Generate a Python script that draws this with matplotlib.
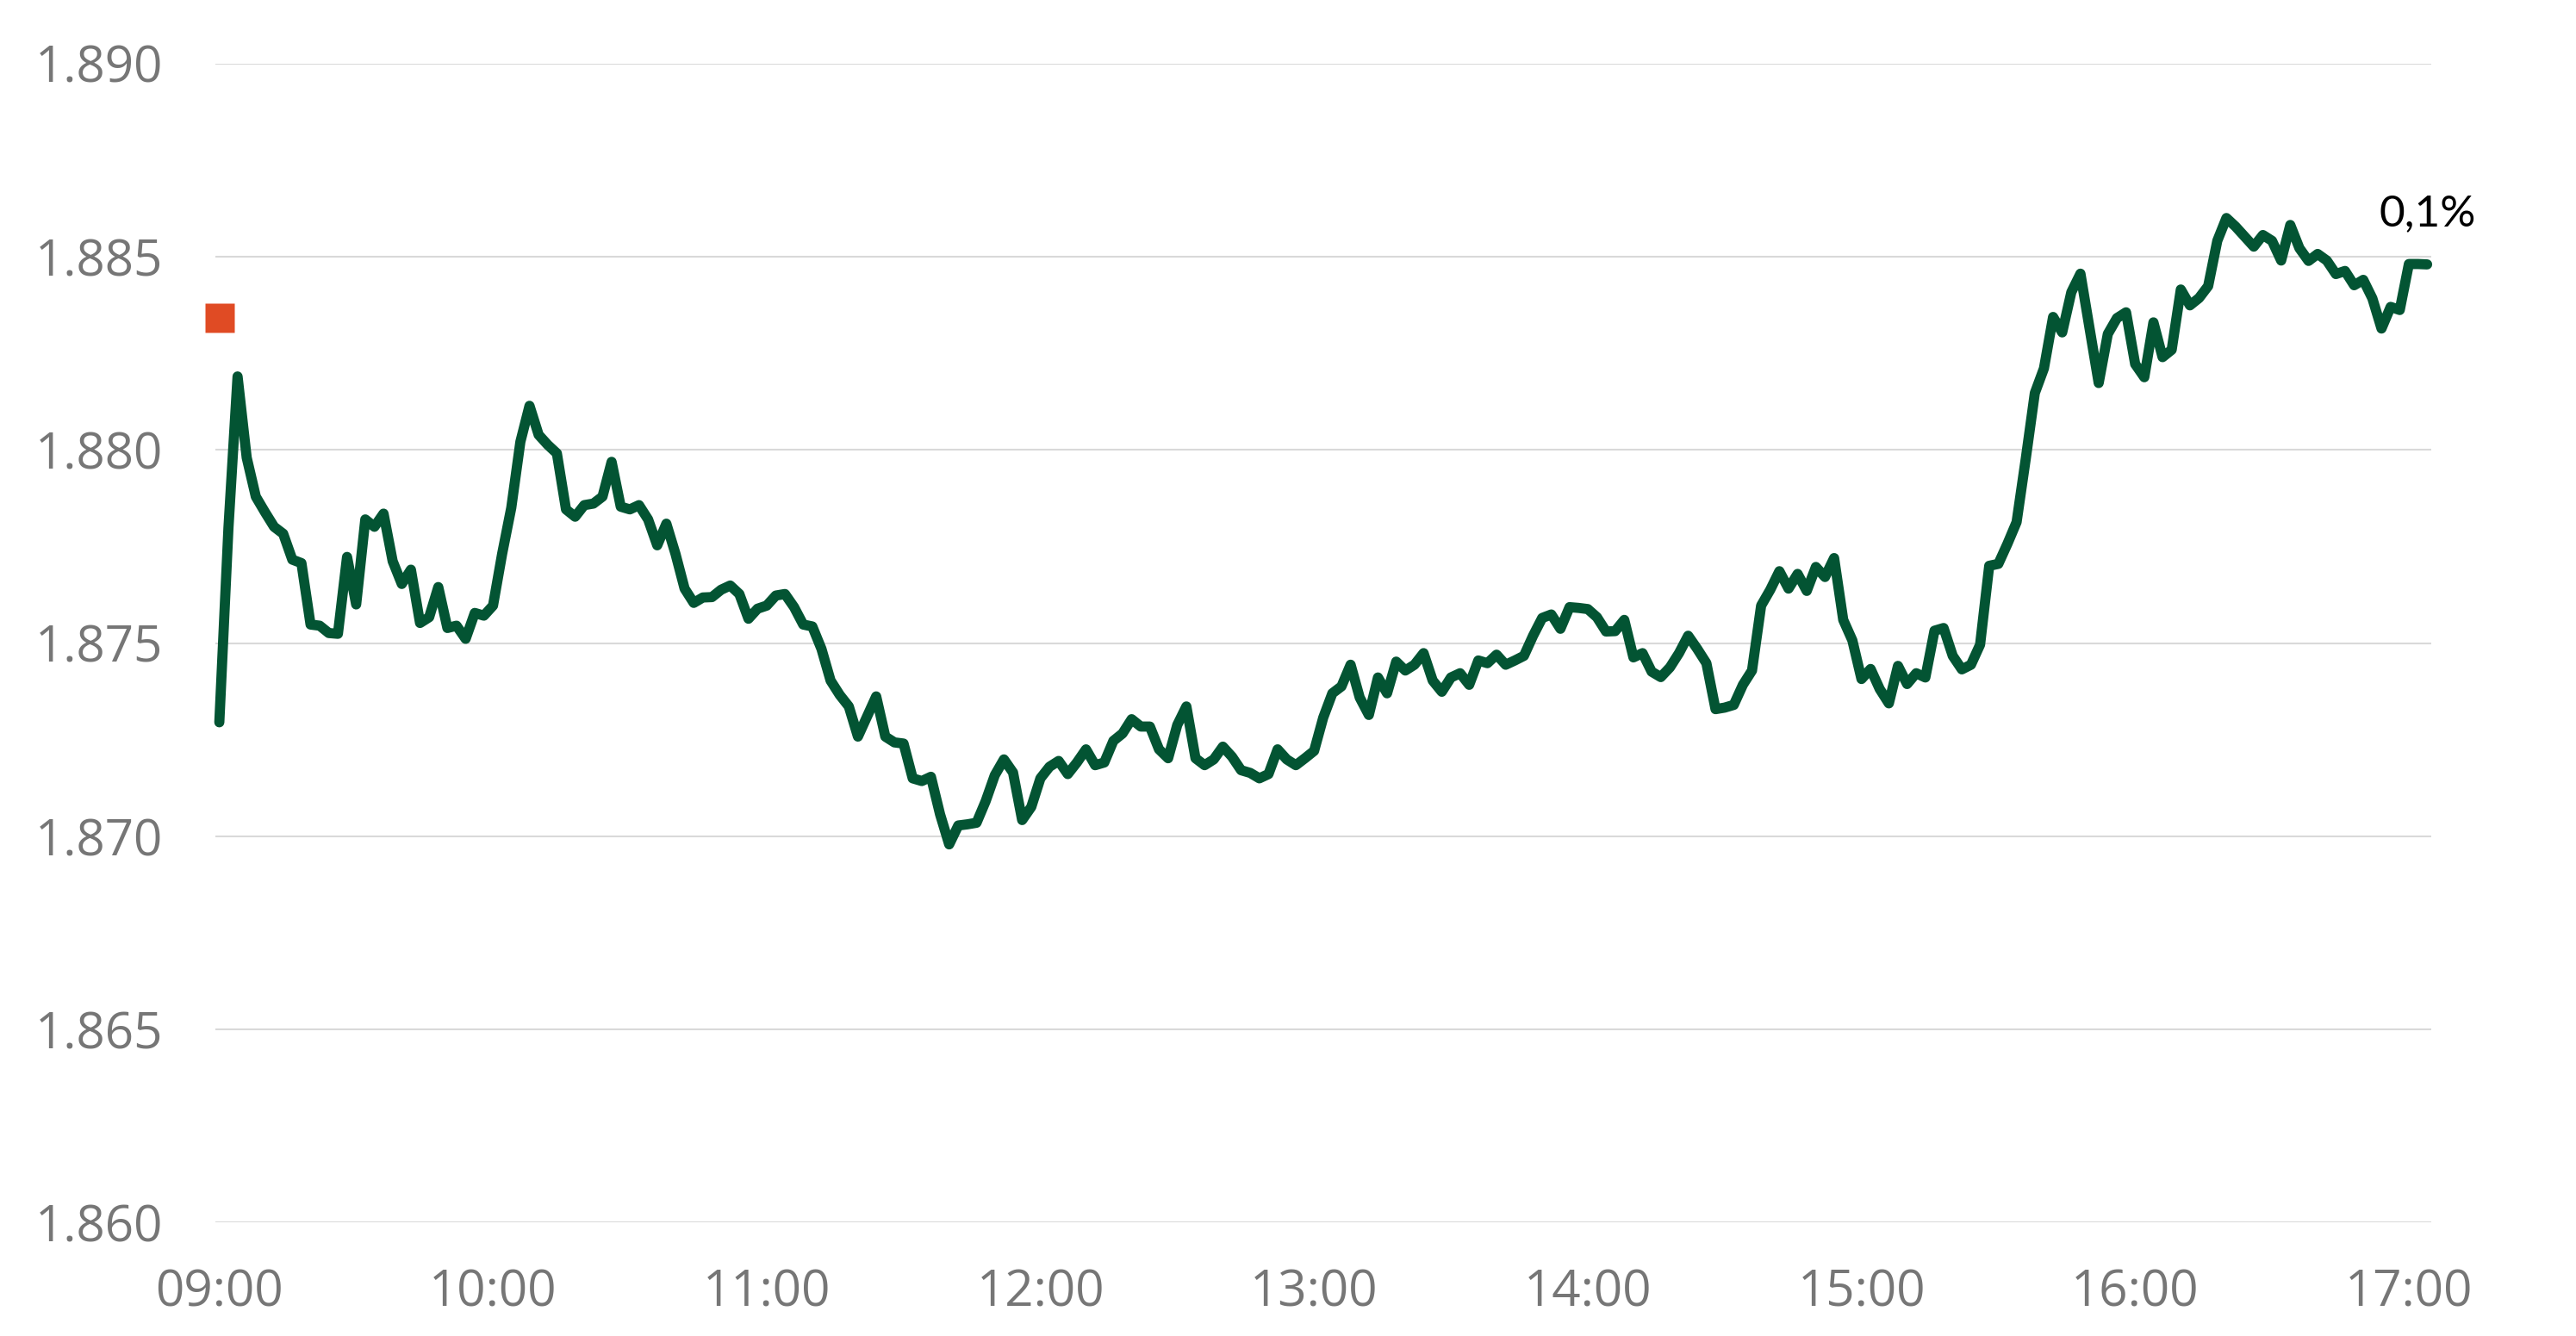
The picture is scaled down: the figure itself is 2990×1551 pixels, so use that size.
import numpy as np
import matplotlib
matplotlib.use("Agg")
import matplotlib.pyplot as plt

# minutes after 09:00, one point every 2 minutes
minutes = np.arange(0, 486, 2)
price = [
    1.87295, 1.87798, 1.88190, 1.87980, 1.87879, 1.87839, 1.87801, 1.87783, 1.87716, 1.87707,
    1.87548, 1.87545, 1.87526, 1.87524, 1.87723, 1.87600, 1.87820, 1.87801, 1.87835, 1.87712,
    1.87653, 1.87690, 1.87552, 1.87567, 1.87645, 1.87539, 1.87545, 1.87511, 1.87578, 1.87571,
    1.87597, 1.87731, 1.87850, 1.88021, 1.88114, 1.88039, 1.88013, 1.87991, 1.87846, 1.87827,
    1.87857, 1.87861, 1.87879, 1.87969, 1.87853, 1.87846, 1.87857, 1.87820, 1.87753, 1.87809,
    1.87731, 1.87641, 1.87604, 1.87618, 1.87619, 1.87638, 1.87649, 1.87627, 1.87563, 1.87589,
    1.87597, 1.87623, 1.87627, 1.87593, 1.87548, 1.87543, 1.87485, 1.87403, 1.87366, 1.87336,
    1.87258, 1.87310, 1.87362, 1.87258, 1.87243, 1.87240, 1.87150, 1.87143, 1.87154, 1.87057,
    1.86979, 1.87028, 1.87031, 1.87035, 1.87091, 1.87158, 1.87199, 1.87165, 1.87042, 1.87076,
    1.87150, 1.87180, 1.87195, 1.87161, 1.87191, 1.87225, 1.87184, 1.87191, 1.87247, 1.87266,
    1.87303, 1.87284, 1.87284, 1.87225, 1.87202, 1.87288, 1.87336, 1.87202, 1.87184, 1.87199,
    1.87232, 1.87206, 1.87171, 1.87164, 1.87150, 1.87161, 1.87225, 1.87199, 1.87184, 1.87202,
    1.87221, 1.87307, 1.87370, 1.87388, 1.87444, 1.87359, 1.87314, 1.87411, 1.87370, 1.87452,
    1.87429, 1.87444, 1.87474, 1.87403, 1.87374, 1.87411, 1.87422, 1.87392, 1.87455, 1.87448,
    1.87470, 1.87444, 1.87455, 1.87467, 1.87519, 1.87565, 1.87574, 1.87537, 1.87593, 1.87591,
    1.87588, 1.87567, 1.87530, 1.87531, 1.87560, 1.87463, 1.87474, 1.87426, 1.87412, 1.87437,
    1.87474, 1.87519, 1.87485, 1.87448, 1.87329, 1.87333, 1.87340, 1.87392, 1.87429, 1.87597,
    1.87638, 1.87686, 1.87641, 1.87679, 1.87635, 1.87697, 1.87671, 1.87720, 1.87560, 1.87507,
    1.87407, 1.87433, 1.87381, 1.87344, 1.87441, 1.87394, 1.87422, 1.87411, 1.87532, 1.87539,
    1.87467, 1.87432, 1.87444, 1.87496, 1.87700, 1.87705, 1.87757, 1.87813, 1.87976, 1.88147,
    1.88211, 1.88344, 1.88304, 1.88408, 1.88456, 1.88315, 1.88173, 1.88300, 1.88341, 1.88356,
    1.88222, 1.88188, 1.88330, 1.88240, 1.88259, 1.88415, 1.88374, 1.88393, 1.88424, 1.88541,
    1.88600, 1.88578, 1.88552, 1.88526, 1.88556, 1.88541, 1.88490, 1.88582, 1.88522, 1.88489,
    1.88507, 1.88490, 1.88455, 1.88463, 1.88426, 1.88440, 1.88392, 1.88314, 1.88370, 1.88362,
    1.88481, 1.88481, 1.88480,
]
prev_close = 1.88341
change_label = "0,1%"

yticks = [1.860, 1.865, 1.870, 1.875, 1.880, 1.885, 1.890]
ytick_labels = ["1.860", "1.865", "1.870", "1.875", "1.880", "1.885", "1.890"]
xticks = [0, 60, 120, 180, 240, 300, 360, 420, 480]
xtick_labels = ["09:00", "10:00", "11:00", "12:00", "13:00", "14:00", "15:00", "16:00", "17:00"]

green = "#035433"
grey = "#767676"

fig = plt.figure(figsize=(29.9, 15.51), dpi=100)
ax = fig.add_axes([0.0836, 0.0848, 0.8602, 0.8677])

ax.plot(minutes, price, color=green, lw=8.5, solid_capstyle="round",
        solid_joinstyle="round", clip_on=False, zorder=3)
ax.plot([0], [prev_close], marker="s", ms=24, color="#E04B24", mec="none",
        clip_on=False, zorder=4)
ax.annotate(change_label, xy=(minutes[-1], price[-1]), xytext=(-40, 32),
            textcoords="offset points", ha="left", va="baseline",
            fontsize=37, family="Lato", color="black")

ax.set_xlim(-0.87, 484.9)
ax.set_ylim(1.860, 1.890)
ax.set_yticks(yticks)
ax.set_yticklabels(ytick_labels)
ax.set_xticks(xticks)
ax.set_xticklabels(xtick_labels)
ax.grid(axis="y", color="#d9d9d9", lw=1.5)
ax.set_axisbelow(True)
for s in ax.spines.values():
    s.set_visible(False)
ax.tick_params(axis="both", length=0, labelcolor=grey, labelsize=42)
ax.tick_params(axis="y", pad=44)
ax.tick_params(axis="x", pad=38)
for lab in ax.get_xticklabels() + ax.get_yticklabels():
    lab.set_family("Open Sans")

fig.savefig("out.png", dpi=100, facecolor="white")
